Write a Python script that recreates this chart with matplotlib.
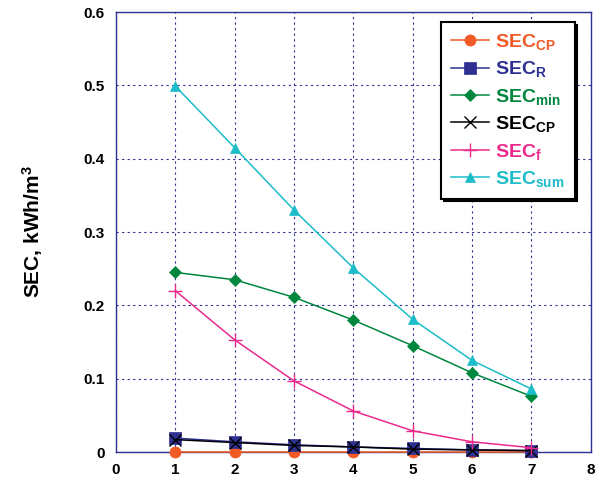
import numpy as np
import matplotlib
matplotlib.use("Agg")
import matplotlib.pyplot as plt

plt.rcParams['font.family'] = ['Liberation Sans', 'DejaVu Sans']
plt.rcParams['font.weight'] = 'bold'
plt.rcParams['mathtext.fontset'] = 'custom'
plt.rcParams['mathtext.rm'] = 'Liberation Sans:bold'
plt.rcParams['mathtext.bf'] = 'Liberation Sans:bold'
plt.rcParams['mathtext.it'] = 'Liberation Sans:bold'

x = [1, 2, 3, 4, 5, 6, 7]
sec_cp = [0, 0, 0, 0, 0, 0, 0]
sec_r = [0.019, 0.014, 0.010, 0.007, 0.005, 0.003, 0.002]
sec_min = [0.245, 0.235, 0.211, 0.180, 0.145, 0.108, 0.076]
sec_cp2 = [0.017, 0.013, 0.009, 0.007, 0.004, 0.003, 0.002]
sec_f = [0.220, 0.153, 0.097, 0.056, 0.029, 0.014, 0.006]
sec_sum = [0.499, 0.415, 0.330, 0.251, 0.181, 0.125, 0.086]

names = [r'SEC$_{\mathbf{CP}}$', r'SEC$_{\mathbf{R}}$', r'SEC$_{\mathbf{min}}$',
         r'SEC$_{\mathbf{CP}}$', r'SEC$_{\mathbf{f}}$', r'SEC$_{\mathbf{sum}}$']
colors = ['#f15a24', '#2e3192', '#00873e', '#000000', '#ec2a8c', '#1cbcc8']
markers = ['o', 's', 'D', 'x', '+', '^']
msizes = [8, 8, 6.5, 9, 10, 7.5]

fig = plt.figure(figsize=[6.01, 4.83], dpi=100)
ax = fig.add_axes([0.193, 0.064, 0.790, 0.911])

data = [sec_cp, sec_r, sec_min, sec_cp2, sec_f, sec_sum]
for d, n, c, m, s in zip(data, names, colors, markers, msizes):
    ax.plot(x, d, color=c, marker=m, markersize=s, lw=1.1, label=n,
            markeredgewidth=1.0 if m in 'x+' else 0.5, clip_on=False, zorder=3)

ax.set_xlim(0, 8)
ax.set_ylim(0, 0.6)
ax.set_xticks(range(0, 9))
ax.set_yticks([0, 0.1, 0.2, 0.3, 0.4, 0.5, 0.6])
ax.set_yticklabels(['0', '0.1', '0.2', '0.3', '0.4', '0.5', '0.6'])
ax.grid(True, color='#2e3192', linestyle=(0, (2, 3)), lw=0.8)
for sp in ax.spines.values():
    sp.set_color('#2e3192')
    sp.set_linewidth(1.0)
ax.tick_params(length=0, labelsize=11, pad=8)
for lab in ax.get_xticklabels() + ax.get_yticklabels():
    lab.set_fontweight('bold')

ax.set_ylabel(r'SEC, kWh/m$^{\mathbf{3}}$', fontsize=15, fontweight='bold', labelpad=28)

leg = ax.legend(loc='upper right', bbox_to_anchor=(0.978, 0.99), fontsize=14,
                frameon=True, fancybox=False, shadow={'color': 'black', 'alpha': 1},
                handlelength=2.0, handletextpad=0.3, labelspacing=0.38,
                borderpad=0.5, borderaxespad=0.3)
leg.get_frame().set_edgecolor('black')
leg.get_frame().set_linewidth(1.5)
for t, c in zip(leg.get_texts(), colors):
    t.set_color(c)

fig.savefig('out.png', dpi=100)
